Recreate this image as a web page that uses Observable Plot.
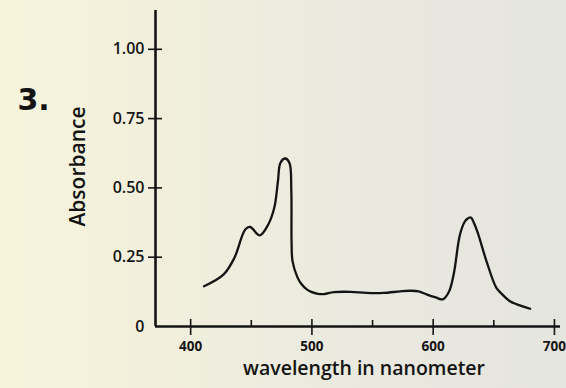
<!DOCTYPE html>
<html>
<head>
<meta charset="utf-8">
<script src="https://cdn.jsdelivr.net/npm/d3@7"></script>
<script src="https://cdn.jsdelivr.net/npm/@observablehq/plot@0.6"></script>
<style>
  html, body { margin: 0; padding: 0; }
  body {
    width: 566px; height: 388px; overflow: hidden;
    background: linear-gradient(90deg, #f7f4dc 0%, #f1efdc 30%, #e9e9e0 65%, #e5e5df 100%);
  }
  #chart svg { display: block; background: transparent; }
</style>
</head>
<body>
<div id="chart"></div>
<script>
// Absorption spectrum: wavelength (nm) against absorbance
const wavelength = [411, 427, 436, 445, 449, 457, 464, 469, 472, 474, 478, 481.5, 483, 483.2, 484, 488, 491, 496, 499, 505, 510, 518, 532, 545, 559, 573, 581, 588, 595, 602, 608, 613, 617, 622, 626, 628, 631, 634, 637, 644, 652, 656, 663, 669, 680];
const absorbance = [0.145, 0.187, 0.247, 0.35, 0.359, 0.329, 0.368, 0.429, 0.525, 0.59, 0.606, 0.59, 0.49, 0.31, 0.236, 0.178, 0.155, 0.133, 0.126, 0.118, 0.117, 0.124, 0.125, 0.121, 0.121, 0.127, 0.129, 0.127, 0.115, 0.105, 0.098, 0.125, 0.19, 0.33, 0.378, 0.388, 0.393, 0.37, 0.335, 0.235, 0.14, 0.12, 0.092, 0.08, 0.064];

// Axis ticks and labels
const yTicks = [0.25, 0.5, 0.75, 1.0];
const yLabelValues = [0, 0.25, 0.5, 0.75, 1.0];
const yLabelText = ["0", "0.25", "0.50", "0.75", "1.00"];
const xTicks = [400, 500, 600, 700];
const xTickText = ["400", "500", "600", "700"];
const xMinorTicks = [450, 550, 650];
const xDomain = [371, 705];
const yDomain = [0, 1.14];

const itemNumber = "3.";
const xTitle = "wavelength in nanometer";
const yTitle = "Absorbance";

const spectrum = wavelength.map((w, i) => ({wavelength: w, absorbance: absorbance[i]}));
const ink = "#141414";
const font = "'Open Sans', sans-serif";

const chart = Plot.plot({
  width: 566,
  height: 388,
  marginLeft: 155,
  marginRight: 6,
  marginTop: 10,
  marginBottom: 62,
  style: {fontFamily: font, color: ink, background: "transparent"},
  x: {domain: xDomain, axis: null},
  y: {domain: yDomain, axis: null},
  marks: [
    // axis lines
    Plot.ruleY([0], {stroke: ink, strokeWidth: 2.6}),
    Plot.ruleX([xDomain[0]], {stroke: ink, strokeWidth: 2.6}),
    // y ticks crossing the axis line
    Plot.axisY({ticks: yTicks, tickSize: 14, dx: 7, fill: "none", stroke: ink, strokeWidth: 1.6}),
    // y tick labels
    Plot.text(yLabelValues, {y: (d) => d, text: (d, i) => yLabelText[i], frameAnchor: "left", dx: -11, textAnchor: "end",
      fontSize: 16, fontWeight: 600, fill: ink}),
    // x major ticks crossing the axis line
    Plot.axisX({ticks: xTicks, tickSize: 16, dy: -7, fill: "none", stroke: ink, strokeWidth: 1.6}),
    // x minor ticks above the axis line
    Plot.axisX({ticks: xMinorTicks, tickSize: 6, dy: -6, fill: "none", stroke: ink, strokeWidth: 1.6}),
    // x tick labels
    Plot.text(xTicks, {x: (d) => d, text: (d, i) => xTickText[i], frameAnchor: "bottom", dy: 24, textAnchor: "middle",
      fontSize: 13.5, fontWeight: 700, fill: ink, style: {letterSpacing: "-1.5px"}}),
    // spectrum curve
    Plot.line(spectrum, {x: "wavelength", y: "absorbance", curve: "catmull-rom", stroke: ink, strokeWidth: 2.3}),
    // titles
    Plot.text([xTitle], {frameAnchor: "bottom", dy: 48, dx: 6, textAnchor: "middle", fontSize: 19.5, fontWeight: 600, fill: ink, text: (d) => d}),
    Plot.text([yTitle], {frameAnchor: "left", dx: -77, dy: -2, rotate: -90, textAnchor: "middle", fontSize: 21, fontWeight: 600, fill: ink, text: (d) => d}),
    Plot.text([itemNumber], {frameAnchor: "top-left", dx: -138, dy: 78, textAnchor: "start", lineAnchor: "top", fontSize: 30, fontWeight: 700, fill: ink, fontFamily: "'DejaVu Sans', sans-serif", text: (d) => d})
  ]
});

document.getElementById("chart").appendChild(chart);
</script>
</body>
</html>
